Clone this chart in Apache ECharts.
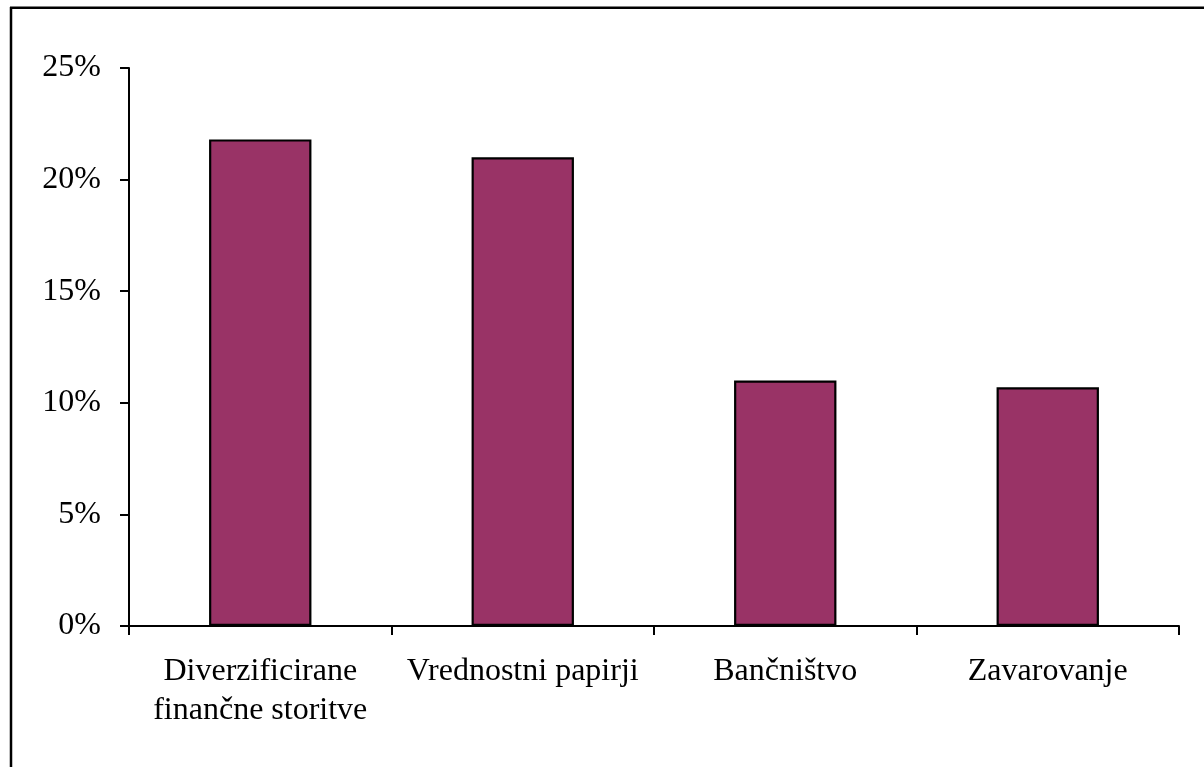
<!DOCTYPE html>
<html>
<head>
<meta charset="utf-8">
<script src="https://cdn.jsdelivr.net/npm/echarts@6/dist/echarts.min.js"></script>
<style>
  html, body { margin: 0; padding: 0; background: #fff; }
  #chart { width: 1204px; height: 767px; }
</style>
</head>
<body>
<div id="chart"></div>
<script>
// Sector categories and their shares (percent)
const categories = ['Diverzificirane\nfinančne storitve', 'Vrednostni papirji', 'Bančništvo', 'Zavarovanje'];
const shares = [21.8, 21.0, 11.0, 10.7];
const yTicks = { min: 0, max: 25, interval: 5 };

const FONT = '"Liberation Serif", "Times New Roman", serif';
const chart = echarts.init(document.getElementById('chart'), null, { renderer: 'canvas' });

chart.setOption({
  animation: false,
  backgroundColor: '#ffffff',
  grid: { left: 129, right: 25, top: 68, bottom: 141, containLabel: false },
  xAxis: {
    type: 'category',
    data: categories,
    boundaryGap: true,
    axisLine: { lineStyle: { color: '#000', width: 2 } },
    axisTick: { show: true, length: 9, lineStyle: { color: '#000', width: 2 } },
    axisLabel: {
      color: '#000', fontFamily: FONT, fontSize: 32, lineHeight: 39,
      margin: 26, interval: 0
    },
    splitLine: { show: false }
  },
  yAxis: {
    type: 'value',
    min: yTicks.min, max: yTicks.max, interval: yTicks.interval,
    axisLine: { show: true, lineStyle: { color: '#000', width: 2 } },
    axisTick: { show: true, length: 9, lineStyle: { color: '#000', width: 2 } },
    axisLabel: {
      color: '#000', fontFamily: FONT, fontSize: 32, margin: 28,
      formatter: '{value}%'
    },
    splitLine: { show: false }
  },
  series: [{
    type: 'bar',
    data: shares,
    barWidth: '39%',
    itemStyle: { color: '#993366', borderColor: '#000', borderWidth: 2.2 }
  }],
  graphic: [
    { type: 'line', silent: true, shape: { x1: 10, y1: 7.7, x2: 1204, y2: 7.7 }, style: { stroke: '#000', lineWidth: 2.5 } },
    { type: 'line', silent: true, shape: { x1: 11, y1: 7, x2: 11, y2: 767 }, style: { stroke: '#000', lineWidth: 2.5 } }
  ]
});
</script>
</body>
</html>
